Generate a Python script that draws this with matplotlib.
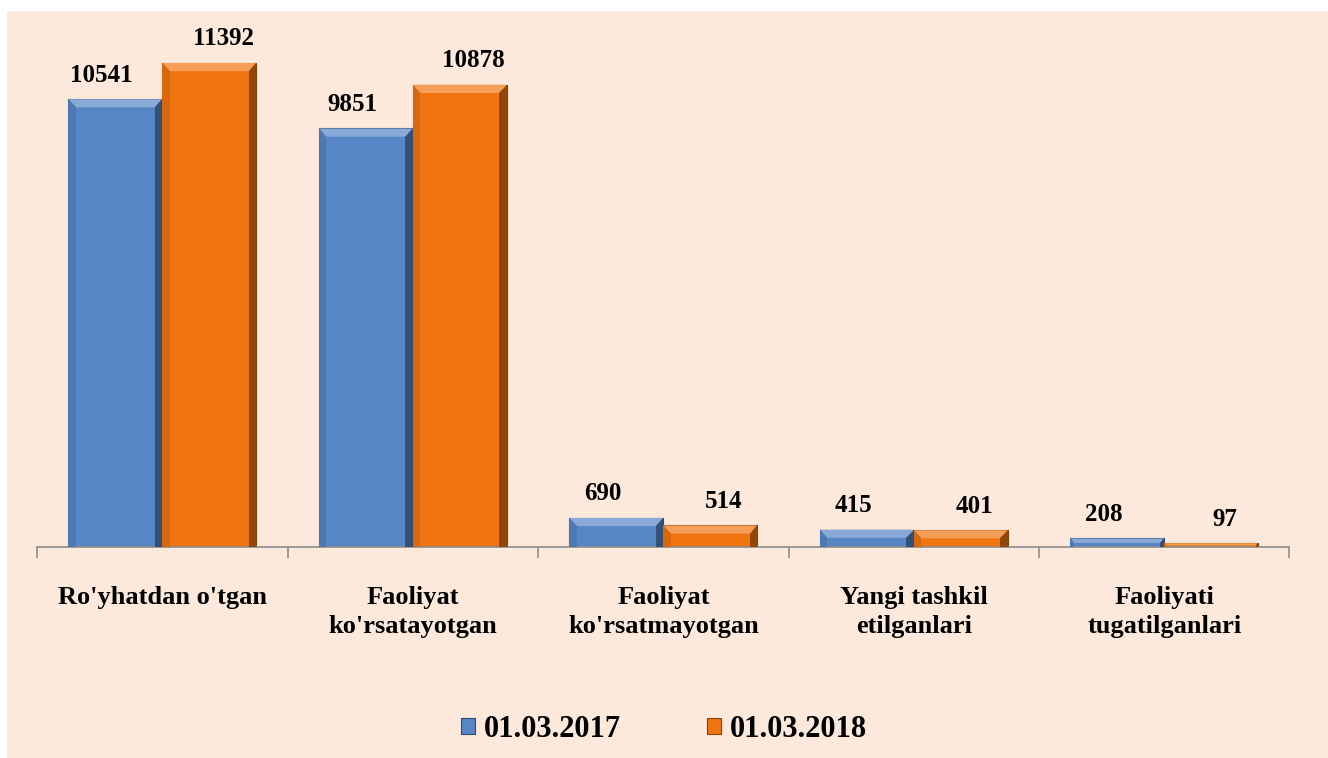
import matplotlib.pyplot as plt
import numpy as np
from matplotlib.patches import Polygon, Rectangle

categories = ["Ro'yhatdan o'tgan", "Faoliyat\nko'rsatayotgan", "Faoliyat\nko'rsatmayotgan",
              "Yangi tashkil\netilganlari", "Faoliyati\ntugatilganlari"]
series_names = ["01.03.2017", "01.03.2018"]
vals_2017 = [10541, 9851, 690, 415, 208]
vals_2018 = [11392, 10878, 514, 401, 97]

blue = '#5686c6'
orange = '#f0740f'
bg = '#fde9db'

plt.rcParams['font.family'] = ['Liberation Serif', 'DejaVu Serif']

fig = plt.figure(figsize=(13.28, 7.58), dpi=100, facecolor='white')
# peach panel with a thin white margin at top and left
fig.patches.append(Rectangle((7 / 1328, 0), 1, 1 - 11 / 758, transform=fig.transFigure,
                             facecolor=bg, edgecolor='none', zorder=-5))
ax = fig.add_axes([0.028, 0.278, 0.943, 0.673])
ax.set_facecolor('none')

x = np.arange(len(categories))
w = 0.375
ymax = 12000
ax.set_xlim(-0.5, len(categories) - 0.5)
ax.set_ylim(0, ymax)


def shade(c, f):
    c = np.array(plt.matplotlib.colors.to_rgb(c))
    if f > 0:
        return tuple(c + (1 - c) * f)
    return tuple(c * (1 + f))


def bevel_bars(xs, vals, color):
    bars = ax.bar(xs, vals, width=w, color=color, edgecolor=shade(color, -0.45), linewidth=0.8, zorder=2)
    bx = 0.03
    for b in bars:
        x0 = b.get_x()
        x1 = x0 + b.get_width()
        top = b.get_height()
        by = min(ymax * 0.016, top / 2)
        bxx = min(bx, by * 0.03 / (ymax * 0.016)) if top < ymax * 0.032 else bx
        polys = [
            ([(x0, top), (x1, top), (x1 - bxx, top - by), (x0 + bxx, top - by)], shade(color, 0.3)),
            ([(x1, top), (x1, 0), (x1 - bxx, 0), (x1 - bxx, top - by)], shade(color, -0.4)),
            ([(x0, top), (x0, 0), (x0 + bxx, 0), (x0 + bxx, top - by)], shade(color, -0.1)),
        ]
        for pts, c in polys:
            ax.add_patch(Polygon(pts, closed=True, facecolor=c, edgecolor='none', zorder=3))
    return bars


b1 = bevel_bars(x - w / 2, vals_2017, blue)
b2 = bevel_bars(x + w / 2, vals_2018, orange)

for xs, vals, dx in [(x - w / 2, vals_2017, -10), (x + w / 2, vals_2018, 10)]:
    for xi, v in zip(xs, vals):
        ax.annotate(str(v), (xi, v), xytext=(dx, 9), textcoords='offset points',
                    ha='center', va='bottom', fontsize=18, fontweight='bold', zorder=4)

for s in ['top', 'left', 'right']:
    ax.spines[s].set_visible(False)
ax.spines['bottom'].set_color('#8c8c8c')
ax.spines['bottom'].set_linewidth(1.2)
ax.set_yticks([])
ax.set_xticks(x)
ax.set_xticklabels(categories, fontsize=19, fontweight='bold', linespacing=1.3)
ax.tick_params(axis='x', which='major', length=0, pad=28)
ax.set_xticks(np.arange(len(categories) + 1) - 0.5, minor=True)
ax.tick_params(axis='x', which='minor', length=8, color='#8c8c8c', width=1.2)

ax.legend([b1, b2], series_names, loc='center', bbox_to_anchor=(0.5, 0.038),
          bbox_transform=fig.transFigure, ncol=2, frameon=False,
          prop={'size': 22, 'weight': 'bold'}, handlelength=0.45, handleheight=0.45,
          handletextpad=0.3, columnspacing=2.8)

fig.savefig('out.png', dpi=100, facecolor='white')
